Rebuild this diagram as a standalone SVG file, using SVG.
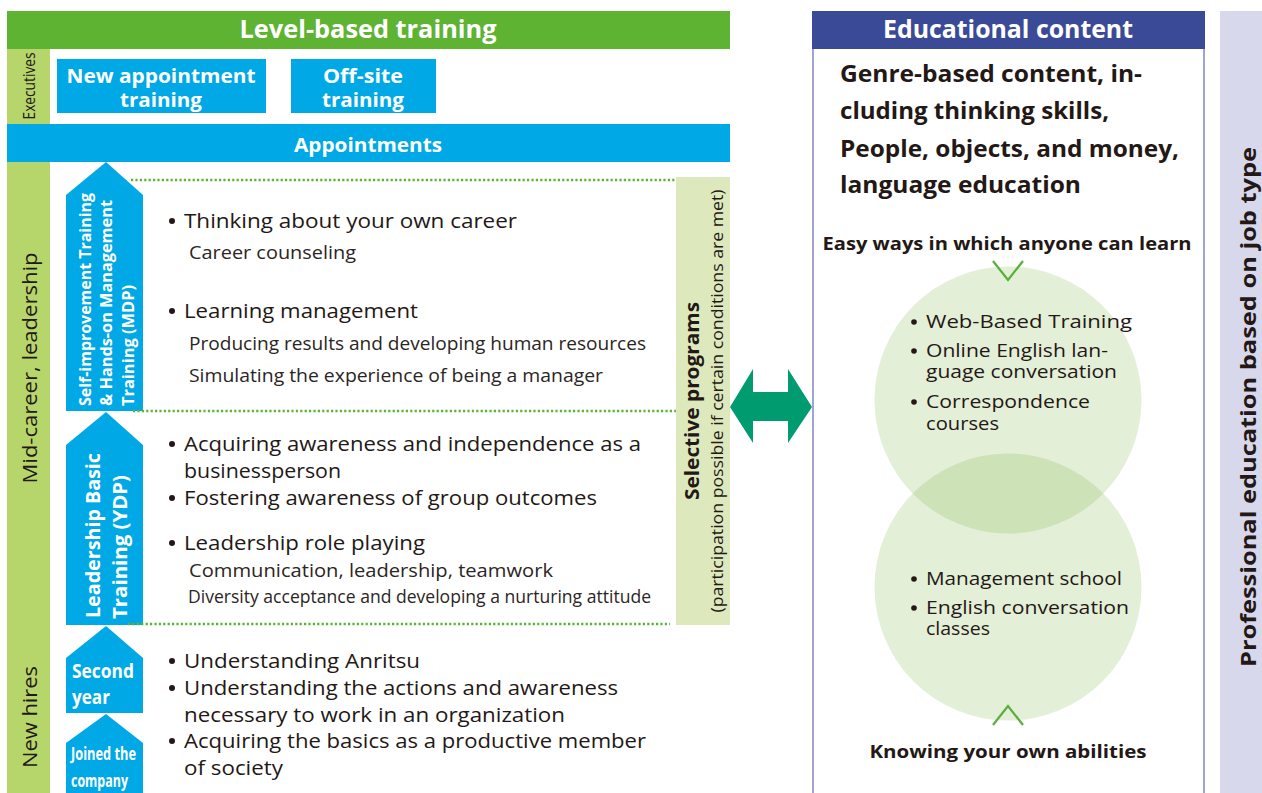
<svg xmlns="http://www.w3.org/2000/svg" width="1262" height="793" viewBox="0 0 1262 793">
  <style>
    text { font-family: "Open Sans", "Noto Sans", "Liberation Sans", sans-serif; fill: #231815; }
    .hdr { font-weight: bold; font-size: 25px; fill: #ffffff; text-anchor: middle; }
    .wb { font-weight: bold; fill: #ffffff; }
    .body { font-size: 20px; }
    .sub { font-size: 19px; fill: #2b2523; }
    .circ { font-size: 18.5px; }
    .bullet { fill: #231815; }
    .bold { font-weight: bold; }
    .blue { fill: #00a9e6; }
    .lg { fill: #b6d56b; }
    .dots { stroke: #5fb332; stroke-width: 2.4; stroke-dasharray: 2.2 2.2; fill: none; }
    .chev { stroke: #5aaf3a; stroke-width: 2.2; fill: none; }
    .bub { fill: #7cb444; fill-opacity: 0.214; }
  </style>

  <!-- Level-based training column -->
  <g id="level-header">
    <rect x="7" y="11" width="723" height="38" fill="#5fb332"/>
    <text class="hdr" x="368" y="38" textLength="257" lengthAdjust="spacingAndGlyphs">Level-based training</text>
  </g>

  <g id="tier-executives">
    <rect class="lg" x="7" y="49" width="43" height="75"/>
    <text transform="translate(35,86) rotate(-90)" text-anchor="middle" font-size="16" textLength="67" lengthAdjust="spacingAndGlyphs">Executives</text>
  </g>

  <g id="node-new-appointment">
    <rect class="blue" x="57" y="59" width="209" height="54"/>
    <text class="wb" x="161" y="83" font-size="19" text-anchor="middle" textLength="189" lengthAdjust="spacingAndGlyphs">New appointment</text>
    <text class="wb" x="161" y="107" font-size="19" text-anchor="middle" textLength="82" lengthAdjust="spacingAndGlyphs">training</text>
  </g>

  <g id="node-offsite">
    <rect class="blue" x="291" y="59" width="145" height="54"/>
    <text class="wb" x="363" y="83" font-size="19" text-anchor="middle" textLength="80" lengthAdjust="spacingAndGlyphs">Off-site</text>
    <text class="wb" x="363" y="107" font-size="19" text-anchor="middle" textLength="82" lengthAdjust="spacingAndGlyphs">training</text>
  </g>

  <g id="bar-appointments">
    <rect class="blue" x="7" y="124" width="723" height="38"/>
    <text class="wb" x="368" y="152" font-size="19" text-anchor="middle" textLength="148" lengthAdjust="spacingAndGlyphs">Appointments</text>
  </g>

  <g id="tier-mid-new">
    <rect class="lg" x="7" y="162" width="43" height="631"/>
    <text transform="translate(37,368) rotate(-90)" text-anchor="middle" font-size="20" textLength="231" lengthAdjust="spacingAndGlyphs">Mid-career, leadership</text>
    <text transform="translate(37,717) rotate(-90)" text-anchor="middle" font-size="20" textLength="102" lengthAdjust="spacingAndGlyphs">New hires</text>
  </g>

  <!-- Step arrows -->
  <g id="step-mdp">
    <polygon class="blue" points="106,162 143,195 143,411 66,411 66,195"/>
    <text class="wb" transform="translate(91,406) rotate(-90)" font-size="16.5" textLength="213" lengthAdjust="spacingAndGlyphs">Self-improvement Training</text>
    <text class="wb" transform="translate(112,406) rotate(-90)" font-size="16.5" textLength="206" lengthAdjust="spacingAndGlyphs">&amp; Hands-on Management</text>
    <text class="wb" transform="translate(134,406) rotate(-90)" font-size="16.5" textLength="121" lengthAdjust="spacingAndGlyphs">Training (MDP)</text>
  </g>

  <g id="step-ydp">
    <polygon class="blue" points="106,412 143,445 143,625 66,625 66,445"/>
    <text class="wb" transform="translate(100,618) rotate(-90)" font-size="19" textLength="165" lengthAdjust="spacingAndGlyphs">Leadership Basic</text>
    <text class="wb" transform="translate(127,619) rotate(-90)" font-size="19" textLength="144" lengthAdjust="spacingAndGlyphs">Training (YDP)</text>
  </g>

  <g id="step-second-year">
    <polygon class="blue" points="106,626 143,658 143,713 66,713 66,658"/>
    <text class="wb" x="72" y="678" font-size="19" textLength="62" lengthAdjust="spacingAndGlyphs">Second</text>
    <text class="wb" x="72" y="704" font-size="19" textLength="38" lengthAdjust="spacingAndGlyphs">year</text>
  </g>

  <g id="step-joined">
    <polygon class="blue" points="106,714 143,743 143,793 66,793 66,743"/>
    <text class="wb" x="71" y="760" font-size="17" textLength="65" lengthAdjust="spacingAndGlyphs">Joined the</text>
    <text class="wb" x="71" y="787" font-size="17" textLength="57" lengthAdjust="spacingAndGlyphs">company</text>
  </g>

  <!-- Program contents -->
  <g id="content-mdp">
    <circle class="bullet" cx="172" cy="221" r="3"/>
    <text class="body" x="184" y="228" textLength="333" lengthAdjust="spacingAndGlyphs">Thinking about your own career</text>
    <text class="sub" x="189" y="259" textLength="167" lengthAdjust="spacingAndGlyphs">Career counseling</text>
    <circle class="bullet" cx="172" cy="311" r="3"/>
    <text class="body" x="184" y="318" textLength="234" lengthAdjust="spacingAndGlyphs">Learning management</text>
    <text class="sub" x="189" y="350" textLength="457" lengthAdjust="spacingAndGlyphs">Producing results and developing human resources</text>
    <text class="sub" x="189" y="382" textLength="414" lengthAdjust="spacingAndGlyphs">Simulating the experience of being a manager</text>
  </g>

  <g id="content-ydp">
    <circle class="bullet" cx="172" cy="444" r="3"/>
    <text class="body" x="184" y="451" textLength="457" lengthAdjust="spacingAndGlyphs">Acquiring awareness and independence as a</text>
    <text class="body" x="184" y="478" textLength="157" lengthAdjust="spacingAndGlyphs">businessperson</text>
    <circle class="bullet" cx="172" cy="498" r="3"/>
    <text class="body" x="184" y="505" textLength="413" lengthAdjust="spacingAndGlyphs">Fostering awareness of group outcomes</text>
    <circle class="bullet" cx="172" cy="543" r="3"/>
    <text class="body" x="184" y="550" textLength="241" lengthAdjust="spacingAndGlyphs">Leadership role playing</text>
    <text class="sub" x="189" y="577" textLength="364" lengthAdjust="spacingAndGlyphs">Communication, leadership, teamwork</text>
    <text class="sub" x="188" y="603" font-size="18" textLength="463" lengthAdjust="spacingAndGlyphs">Diversity acceptance and developing a nurturing attitude</text>
  </g>

  <g id="content-new-hires">
    <circle class="bullet" cx="172" cy="661" r="3"/>
    <text class="body" x="184" y="668" textLength="236" lengthAdjust="spacingAndGlyphs">Understanding Anritsu</text>
    <circle class="bullet" cx="172" cy="688" r="3"/>
    <text class="body" x="184" y="695" textLength="434" lengthAdjust="spacingAndGlyphs">Understanding the actions and awareness</text>
    <text class="body" x="184" y="722" textLength="381" lengthAdjust="spacingAndGlyphs">necessary to work in an organization</text>
    <circle class="bullet" cx="172" cy="741" r="3"/>
    <text class="body" x="184" y="748" textLength="462" lengthAdjust="spacingAndGlyphs">Acquiring the basics as a productive member</text>
    <text class="body" x="184" y="775" textLength="99" lengthAdjust="spacingAndGlyphs">of society</text>
  </g>

  <g id="node-selective">
    <rect x="676" y="177" width="54" height="448" fill="#dde9bd"/>
    <text class="bold" transform="translate(699,401) rotate(-90)" text-anchor="middle" font-size="19" textLength="198" lengthAdjust="spacingAndGlyphs">Selective programs</text>
    <text transform="translate(723,401) rotate(-90)" text-anchor="middle" font-size="16.5" textLength="423" lengthAdjust="spacingAndGlyphs">(participation possible if certain conditions are met)</text>
  </g>

  <!-- Educational content panel -->
  <g id="panel-educational">
    <line x1="813" y1="49" x2="813" y2="793" stroke="#9ea6d0" stroke-width="2"/>
    <line x1="1204" y1="49" x2="1204" y2="793" stroke="#9ea6d0" stroke-width="2"/>
    <rect x="812" y="11" width="393" height="38" fill="#3b4a97"/>
    <text class="hdr" x="1008" y="38" textLength="250" lengthAdjust="spacingAndGlyphs">Educational content</text>
    <text class="bold" x="840" y="82" font-size="24" textLength="302" lengthAdjust="spacingAndGlyphs">Genre-based content, in-</text>
    <text class="bold" x="840" y="119" font-size="24" textLength="269" lengthAdjust="spacingAndGlyphs">cluding thinking skills,</text>
    <text class="bold" x="840" y="157" font-size="24" textLength="339" lengthAdjust="spacingAndGlyphs">People, objects, and money,</text>
    <text class="bold" x="840" y="193" font-size="24" textLength="241" lengthAdjust="spacingAndGlyphs">language education</text>
    <text class="bold" x="1007" y="250" font-size="18" text-anchor="middle" textLength="369" lengthAdjust="spacingAndGlyphs">Easy ways in which anyone can learn</text>
    <text class="bold" x="1008" y="758" font-size="18" text-anchor="middle" textLength="277" lengthAdjust="spacingAndGlyphs">Knowing your own abilities</text>
  </g>

  <g id="node-self-study">
    <circle class="bub" cx="1008" cy="400" r="133.5"/>
    <circle class="bullet" cx="914" cy="322" r="2.8"/>
    <text class="circ" x="926" y="328" textLength="206" lengthAdjust="spacingAndGlyphs">Web-Based Training</text>
    <circle class="bullet" cx="914" cy="351" r="2.8"/>
    <text class="circ" x="926" y="357" textLength="182" lengthAdjust="spacingAndGlyphs">Online English lan-</text>
    <text class="circ" x="926" y="378" textLength="191" lengthAdjust="spacingAndGlyphs">guage conversation</text>
    <circle class="bullet" cx="914" cy="402" r="2.8"/>
    <text class="circ" x="926" y="408" textLength="164" lengthAdjust="spacingAndGlyphs">Correspondence</text>
    <text class="circ" x="926" y="430" textLength="73" lengthAdjust="spacingAndGlyphs">courses</text>
  </g>

  <g id="node-classes">
    <circle class="bub" cx="1008" cy="587" r="133.5"/>
    <circle class="bullet" cx="914" cy="579" r="2.8"/>
    <text class="circ" x="926" y="585" textLength="196" lengthAdjust="spacingAndGlyphs">Management school</text>
    <circle class="bullet" cx="914" cy="608" r="2.8"/>
    <text class="circ" x="926" y="614" textLength="203" lengthAdjust="spacingAndGlyphs">English conversation</text>
    <text class="circ" x="926" y="635" textLength="64" lengthAdjust="spacingAndGlyphs">classes</text>
  </g>

  <g id="band-job-type">
    <rect x="1220" y="11" width="42" height="782" fill="#d8d8ec"/>
    <text class="bold" transform="translate(1256,407) rotate(-90)" text-anchor="middle" font-size="22" textLength="520" lengthAdjust="spacingAndGlyphs">Professional education based on job type</text>
  </g>

  <!-- Connectors -->
  <g id="connectors">
    <line class="dots" x1="131" y1="180" x2="676" y2="180"/>
    <line class="dots" x1="133" y1="411" x2="676" y2="411"/>
    <line class="dots" x1="128" y1="624" x2="670" y2="624"/>
    <polygon fill="#009b6e" points="730,407 753,369 753,392 788,392 788,369 812,407 788,443 788,421 753,421 753,443"/>
    <polyline class="chev" points="993,261 1008,280 1023,261"/>
    <polyline class="chev" points="993,725 1008,706 1023,725"/>
  </g>
</svg>
